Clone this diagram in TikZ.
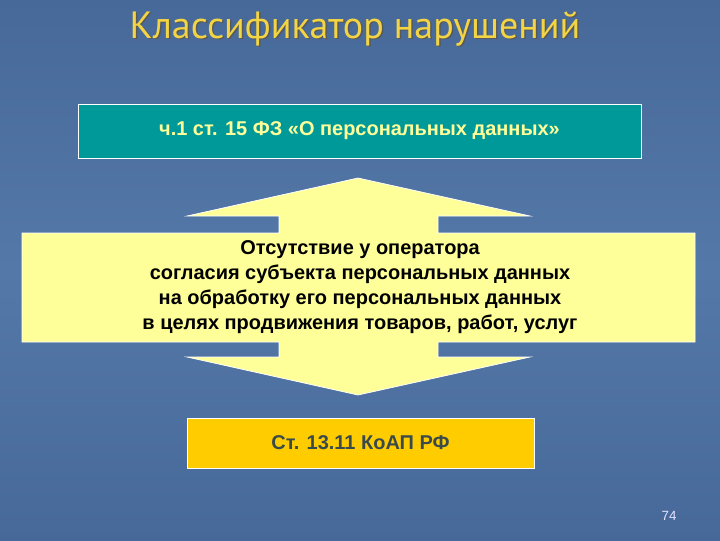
\documentclass[tikz,border=0pt]{standalone}
\usepackage{fontspec}
\setmainfont{Liberation Sans}
\newfontfamily\titlefont{PT Sans}
\definecolor{slideblue}{HTML}{5478A8}
\definecolor{slidetop}{HTML}{46699A}
\definecolor{tealbox}{HTML}{009999}
\definecolor{paleyellow}{HTML}{FFFF99}
\definecolor{goldbox}{HTML}{FFCC00}
\definecolor{titleyellow}{HTML}{F2D444}
\definecolor{darktext}{HTML}{3A4A4A}

\begin{document}
\begin{tikzpicture}
[x=0.025cm,y=-0.025cm,
 box/.style={draw=white,line width=0.6pt,inner sep=0pt,font=\bfseries\fontsize{14.2}{16}\selectfont}]
% background
\shade[top color=slidetop,bottom color=slidetop,middle color=slideblue] (0,0) rectangle (720,540);
\useasboundingbox (0,0) rectangle (720,540);
% title
\node[anchor=base,text=black!65,font=\titlefont\fontsize{27}{30}\selectfont] (titleshadow) at (356.5,39.5) {Классификатор нарушений};
\node[anchor=base,text=titleyellow,font=\titlefont\fontsize{27}{30}\selectfont] (title) at (355,38) {Классификатор нарушений};
% law box
\node[box,fill=tealbox,text=paleyellow,minimum width=14.075cm,minimum height=1.35cm] (law) at (359.5,131) {ч.1 ст. 15 ФЗ «О персональных данных»};
% double arrow callout
\draw[draw=white,line width=0.5pt,fill=paleyellow]
  (22,233) -- (279,233) -- (279,216) -- (187,216) -- (358,178) -- (530,216) -- (438,216) -- (438,233)
  -- (695,233) -- (695,342) -- (438,342) -- (438,357) -- (530,357) -- (358,395) -- (187,357)
  -- (279,357) -- (279,342) -- (22,342) -- cycle;
\node[align=center,font=\bfseries\fontsize{14.2}{17.7}\selectfont] (breach) at (360,287)
  {Отсутствие у оператора\\согласия субъекта персональных данных\\на обработку его персональных данных\\в целях продвижения товаров, работ, услуг};
% code box
\node[box,fill=goldbox,text=darktext,minimum width=8.675cm,minimum height=1.25cm] (koap) at (360.5,443) {Ст. 13.11 КоАП РФ};
% page number
\node[text=white!90!blue,font=\fontsize{9.5}{10}\selectfont] (page) at (669,516) {74};
\end{tikzpicture}
\end{document}
